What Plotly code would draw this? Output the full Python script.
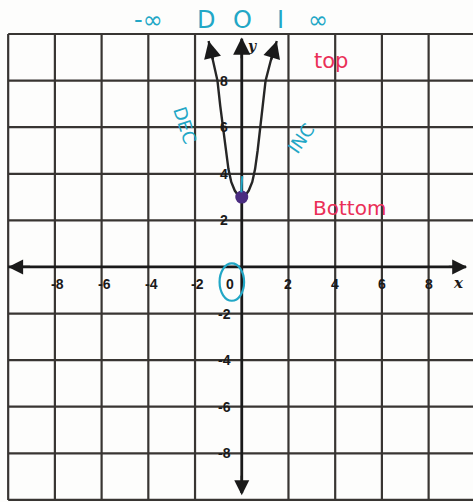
import plotly.graph_objects as go

# Graph of the parabola with a vertex at (0, 3)
curve_x = [-1.42, -1.22, -1.04, -0.92, -0.8, -0.68, -0.57, -0.45, -0.3, -0.15, 0.0,
           0.15, 0.3, 0.45, 0.57, 0.68, 0.8, 0.9, 1.02, 1.24, 1.5]
curve_y = [9.7, 8.85, 8.0, 6.9, 6.0, 5.0, 4.2, 3.65, 3.28, 3.07, 3.0,
           3.07, 3.28, 3.65, 4.2, 5.0, 6.0, 6.9, 8.0, 8.85, 9.7]
vertex_x = [0]
vertex_y = [3]

# Axis ticks printed along the axes
x_ticks = [-8, -6, -4, -2, 0, 2, 4, 6, 8]
y_ticks = [8, 6, 4, 2, -2, -4, -6, -8]
grid_values = [-10, -8, -6, -4, -2, 2, 4, 6, 8, 10]

# Handwritten notes
interval_words = ["-\u221e", "D", "O", "I", "\u221e"]
interval_x = [-4.0, -1.55, 0.05, 1.65, 3.25]

INK = "#1a1a1a"
GRID = "#383532"
CYAN = "#22a7c6"
RED = "#ea2f57"
PURPLE = "#4a2c80"

fig = go.Figure()

# Square grid every 2 units
for g in grid_values:
    fig.add_trace(go.Scatter(x=[g, g], y=[-10, 10], mode="lines",
                             line=dict(color=GRID, width=2.2), hoverinfo="skip"))
    fig.add_trace(go.Scatter(x=[-10, 10], y=[g, g], mode="lines",
                             line=dict(color=GRID, width=2.2), hoverinfo="skip"))

# Coordinate axes
fig.add_trace(go.Scatter(x=[-10, 9.6], y=[0, 0], mode="lines",
                         line=dict(color=INK, width=2.8), hoverinfo="skip"))
fig.add_trace(go.Scatter(x=[0, 0], y=[-9.7, 9.8], mode="lines",
                         line=dict(color=INK, width=2.8), hoverinfo="skip"))

# Parabola
fig.add_trace(go.Scatter(x=curve_x, y=curve_y, mode="lines",
                         line=dict(color="#262626", width=2.4),
                         hoverinfo="skip"))
fig.add_trace(go.Scatter(x=vertex_x, y=vertex_y, mode="markers",
                         marker=dict(color=PURPLE, size=13), hoverinfo="skip"))

annotations = []


def arrow(x, y, ax, ay, size=1.3):
    annotations.append(dict(x=x, y=y, ax=ax, ay=ay, xref="x", yref="y", axref="x", ayref="y",
                            text="", showarrow=True, arrowhead=2, arrowsize=size,
                            arrowwidth=2.3, arrowcolor=INK))


# Axis arrowheads
arrow(-10.0, 0, -9.0, 0)
arrow(9.65, 0, 8.8, 0)
arrow(0, 9.85, 0, 8.9, 1.5)
arrow(0, -9.8, 0, -8.9)
# Curve arrowheads
arrow(curve_x[0], curve_y[0], curve_x[1], curve_y[1], 1.5)
arrow(curve_x[-1], curve_y[-1], curve_x[-2], curve_y[-2], 1.5)

tick_font = dict(family="Liberation Sans, Arial, sans-serif", size=14, color=INK, weight="bold")
for t in x_ticks:
    xx = t - 0.5 if t == 0 else (t + 0.12 if t < 0 else t)
    annotations.append(dict(x=xx, y=-0.75, text=str(t), showarrow=False, font=tick_font))
for t in y_ticks:
    annotations.append(dict(x=-0.75, y=t, text=str(t), showarrow=False, font=tick_font))

annotations.append(dict(x=9.3, y=-0.68, text="<i>x</i>", showarrow=False,
                        font=dict(family="DejaVu Serif", size=15, color=INK, weight="bold")))
annotations.append(dict(x=0.42, y=9.5, text="<i>y</i>", showarrow=False,
                        font=dict(family="DejaVu Serif", size=14, color=INK, weight="bold")))

# Handwritten interval notes
hand = "DejaVu Sans, sans-serif"
for w, xx in zip(interval_words, interval_x):
    annotations.append(dict(x=xx, y=10.62, text=w, showarrow=False,
                            font=dict(family=hand, size=24, color=CYAN)))
annotations.append(dict(x=-2.45, y=6.1, text="DEC", showarrow=False, textangle=72,
                        font=dict(family=hand, size=18, color=CYAN)))
annotations.append(dict(x=2.55, y=5.5, text="INC", showarrow=False, textangle=-55,
                        font=dict(family=hand, size=18, color=CYAN)))
annotations.append(dict(x=3.8, y=8.85, text="top", showarrow=False,
                        font=dict(family=hand, size=21, color=RED)))
annotations.append(dict(x=4.6, y=2.55, text="Bottom", showarrow=False,
                        font=dict(family=hand, size=20, color=RED)))

fig.update_layout(
    annotations=annotations,
    shapes=[
        # ring around the origin label
        dict(type="circle", xref="x", yref="y", x0=-0.95, x1=0.1, y0=-1.45, y1=0.15,
             line=dict(color=CYAN, width=2.2)),
        # small mark at the vertex
        dict(type="line", xref="x", yref="y", x0=-0.02, x1=0.02, y0=3.2, y1=3.9,
             line=dict(color=CYAN, width=2)),
    ],
    width=473, height=502,
    margin=dict(l=0, r=0, t=0, b=0),
    paper_bgcolor="#fdfdfc", plot_bgcolor="#fdfdfc",
    showlegend=False,
    xaxis=dict(range=[-10.35, 9.9], visible=False, fixedrange=True),
    yaxis=dict(range=[-10.09, 11.46], visible=False, fixedrange=True),
)

fig.write_html("out.html")
